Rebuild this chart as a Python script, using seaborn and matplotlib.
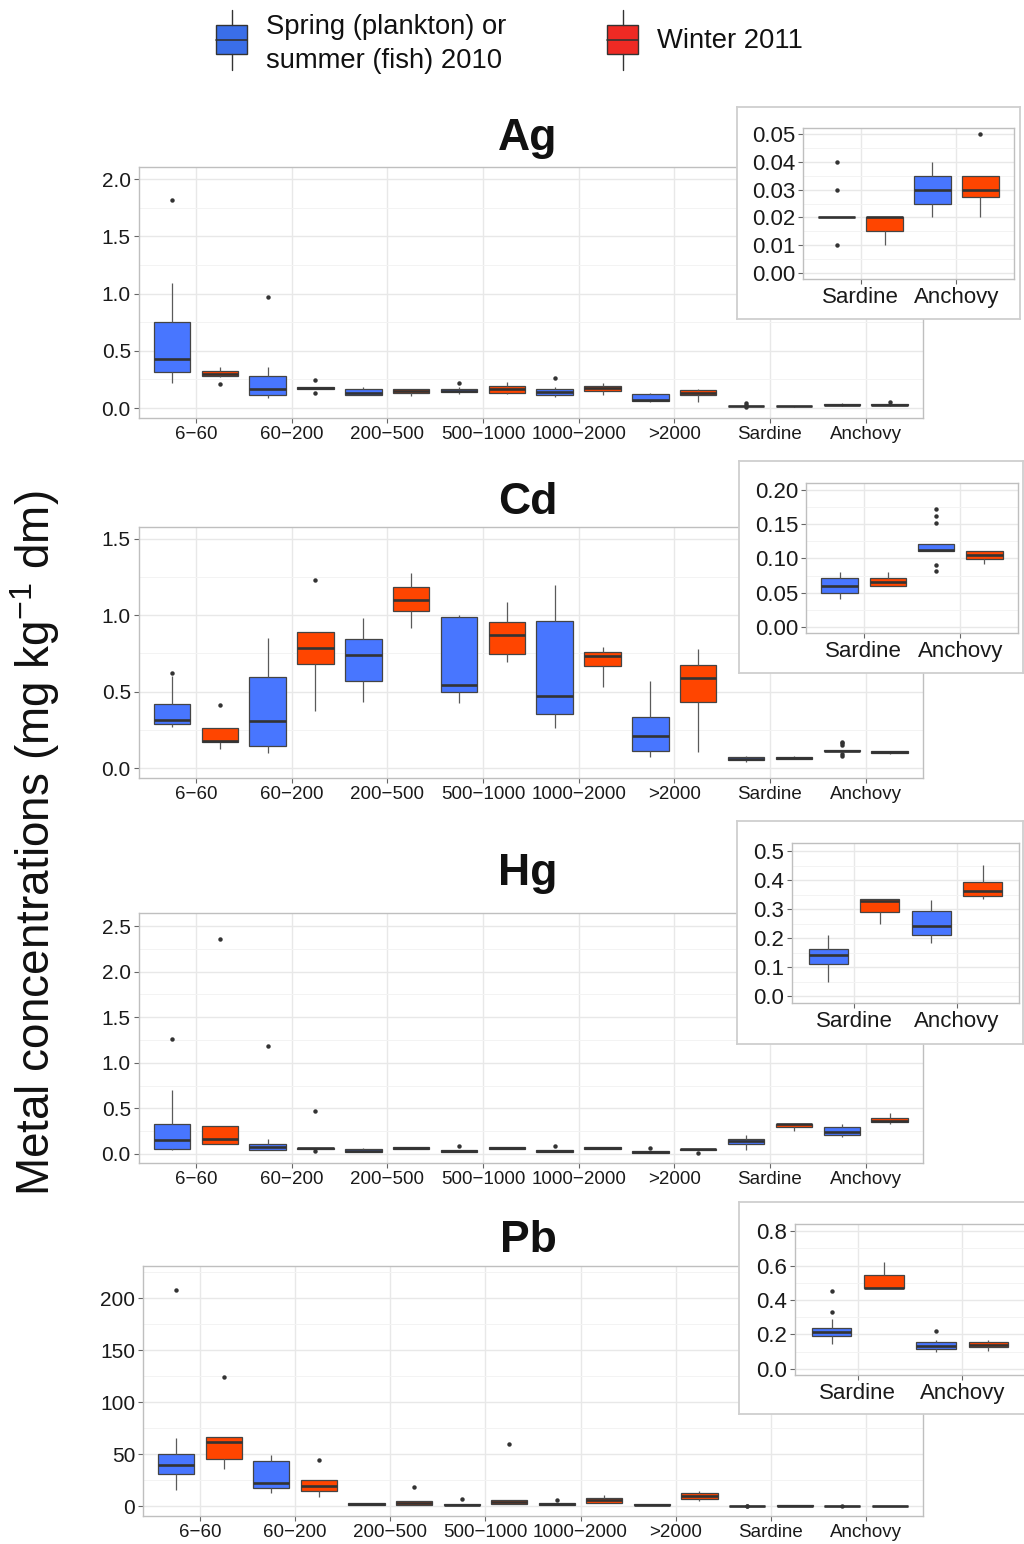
import numpy as np
import pandas as pd
import matplotlib
matplotlib.use("Agg")
import matplotlib.pyplot as plt
import seaborn as sns
from matplotlib.patches import Rectangle
from matplotlib.ticker import MultipleLocator

sns.set_theme(style="whitegrid")
plt.rcParams['font.family'] = ['Liberation Sans', 'DejaVu Sans']
plt.rcParams['mathtext.fontset'] = 'custom'
plt.rcParams['mathtext.rm'] = 'Liberation Sans'

# ---------------- data ----------------
classes = ["6\u221260", "60\u2212200", "200\u2212500", "500\u22121000",
           "1000\u22122000", ">2000", "Sardine", "Anchovy"]
fish = ["Sardine", "Anchovy"]
season_labels = ["Spring (plankton) or\nsummer (fish) 2010", "Winter 2011"]
metals = ["Ag", "Cd", "Hg", "Pb"]

# five-number summaries per class: (lower whisker, Q1, median, Q3, upper whisker)
ag_2010 = [(0.221, 0.317, 0.428, 0.754, 1.094), (0.085, 0.113, 0.169, 0.282, 0.355),
           (0.117, 0.117, 0.128, 0.169, 0.186), (0.12, 0.14, 0.152, 0.165, 0.18),
           (0.096, 0.114, 0.142, 0.169, 0.18), (0.05, 0.058, 0.07, 0.119, 0.134),
           (0.02, 0.02, 0.02, 0.02, 0.02), (0.02, 0.025, 0.03, 0.035, 0.04)]
ag_2010_out = [[1.816], [0.969], [], [0.215], [0.262], [], [0.01, 0.03, 0.04], []]
ag_2011 = [(0.27, 0.28, 0.30, 0.32, 0.355), (0.165, 0.165, 0.175, 0.18, 0.18),
           (0.102, 0.134, 0.149, 0.163, 0.169), (0.12, 0.134, 0.163, 0.192, 0.227),
           (0.11, 0.151, 0.175, 0.195, 0.218), (0.052, 0.111, 0.134, 0.155, 0.169),
           (0.01, 0.015, 0.02, 0.02, 0.02), (0.02, 0.0275, 0.03, 0.035, 0.035)]
ag_2011_out = [[0.212], [0.242, 0.135], [], [], [], [], [], [0.05]]

cd_2010 = [(0.266, 0.288, 0.314, 0.417, 0.60), (0.096, 0.146, 0.308, 0.598, 0.849),
           (0.434, 0.572, 0.742, 0.843, 0.98), (0.424, 0.50, 0.544, 0.991, 1.0),
           (0.264, 0.357, 0.472, 0.965, 1.196), (0.072, 0.109, 0.212, 0.336, 0.57),
           (0.041, 0.0502, 0.0604, 0.0712, 0.08), (0.111, 0.111, 0.1125, 0.1213, 0.1213)]
cd_2010_out = [[0.62], [], [], [], [], [], [], [0.172, 0.162, 0.152, 0.0906, 0.081]]
cd_2011 = [(0.124, 0.173, 0.177, 0.264, 0.264), (0.375, 0.681, 0.784, 0.891, 0.891),
           (0.915, 1.03, 1.10, 1.187, 1.279), (0.692, 0.747, 0.871, 0.956, 1.089),
           (0.53, 0.666, 0.731, 0.76, 0.79), (0.107, 0.432, 0.59, 0.677, 0.78),
           (0.06, 0.06, 0.065, 0.0712, 0.08), (0.0917, 0.099, 0.105, 0.1115, 0.1115)]
cd_2011_out = [[0.41], [1.229], [], [], [], [], [], []]

hg_2010 = [(0.04, 0.055, 0.153, 0.329, 0.70), (0.047, 0.047, 0.08, 0.113, 0.164),
           (0.02, 0.02, 0.035, 0.05, 0.07), (0.02, 0.02, 0.03, 0.04, 0.04),
           (0.025, 0.025, 0.035, 0.045, 0.045), (0.015, 0.015, 0.022, 0.03, 0.03),
           (0.049, 0.11, 0.141, 0.161, 0.21), (0.182, 0.21, 0.241, 0.292, 0.331)]
hg_2010_out = [[1.264], [1.184], [], [0.09], [0.09], [0.066], [], []]
hg_2011 = [(0.11, 0.11, 0.161, 0.307, 0.307), (0.06, 0.06, 0.065, 0.07, 0.07),
           (0.055, 0.055, 0.07, 0.08, 0.08), (0.05, 0.05, 0.065, 0.08, 0.08),
           (0.05, 0.05, 0.065, 0.077, 0.077), (0.045, 0.045, 0.055, 0.06, 0.06),
           (0.25, 0.291, 0.329, 0.333, 0.333), (0.333, 0.346, 0.363, 0.392, 0.452)]
hg_2011_out = [[2.36], [0.475, 0.035], [], [], [], [0.015], [], []]

pb_2010 = [(15.4, 30.5, 39.1, 49.7, 65.7), (12.2, 17.6, 22.4, 43.0, 49.4),
           (0.5, 0.5, 1.5, 2.7, 2.7), (0.5, 0.5, 1.2, 1.8, 1.8),
           (1.3, 1.3, 1.9, 2.6, 2.6), (0.8, 0.8, 1.4, 2.0, 2.0),
           (0.144, 0.19, 0.213, 0.24, 0.292), (0.098, 0.117, 0.136, 0.156, 0.171)]
pb_2010_out = [[208], [], [], [6.7], [5.5], [], [0.33, 0.451], [0.223]]
pb_2011 = [(35.3, 45.2, 61.8, 66.0, 66.0), (9.0, 14.1, 19.2, 24.7, 24.7),
           (0.5, 0.5, 3.0, 5.3, 5.3), (1.5, 1.5, 3.5, 5.5, 5.5),
           (3.2, 3.2, 5.8, 8.0, 10.6), (4.8, 7.0, 9.9, 12.2, 14.7),
           (0.467, 0.467, 0.471, 0.546, 0.618), (0.105, 0.125, 0.142, 0.157, 0.171)]
pb_2011_out = [[123.7], [44.2], [18.6], [59.3], [], [], [], []]

summaries = {
    "Ag": [(ag_2010, ag_2010_out), (ag_2011, ag_2011_out)],
    "Cd": [(cd_2010, cd_2010_out), (cd_2011, cd_2011_out)],
    "Hg": [(hg_2010, hg_2010_out), (hg_2011, hg_2011_out)],
    "Pb": [(pb_2010, pb_2010_out), (pb_2011, pb_2011_out)],
}

# expand each summary into observations whose quartiles match the summary
rows = []
for metal, seasons in summaries.items():
    for s_idx, (stats, outs) in enumerate(seasons):
        for cls, (lo, q1, med, q3, hi), out in zip(classes, stats, outs):
            vals = [lo] + [q1] * 10 + [med] * 5 + [q3] * 10 + [hi] + list(out)
            for v in vals:
                rows.append((metal, season_labels[s_idx], cls, v))
df = pd.DataFrame(rows, columns=["metal", "season", "cls", "value"])

# ---------------- layout ----------------
W, H = 1024, 1544
BLUE, RED = "#4876FF", "#FF4500"


def rect(l, t, r, b):
    return [l / W, 1 - b / H, (r - l) / W, (b - t) / H]


main_rects = {"Ag": (138.5, 167, 923, 418), "Cd": (138.5, 527, 923, 778),
              "Hg": (138.5, 913, 923, 1163), "Pb": (143, 1266, 923, 1516)}
main_ylim = {"Ag": (-0.087, 2.105), "Cd": (-0.065, 1.578),
             "Hg": (-0.099, 2.643), "Pb": (-9.6, 230.8)}
main_step = {"Ag": 0.5, "Cd": 0.5, "Hg": 0.5, "Pb": 50}
title_base = {"Ag": 150, "Cd": 514, "Hg": 885, "Pb": 1252}

inset_rects = {"Ag": (803, 128, 1014, 279), "Cd": (806, 483, 1018, 633),
               "Hg": (792, 843, 1019, 1003), "Pb": (795, 1224, 1025, 1375)}
inset_outer = {"Ag": (737, 107, 1020, 319), "Cd": (739, 461, 1023, 673),
               "Hg": (737, 821, 1023, 1044), "Pb": (739, 1202, 1030, 1414)}
inset_ylim = {"Ag": (-0.0022, 0.0523), "Cd": (-0.0088, 0.210),
              "Hg": (-0.0241, 0.5276), "Pb": (-0.0348, 0.8406)}
inset_step = {"Ag": 0.01, "Cd": 0.05, "Hg": 0.1, "Pb": 0.2}

fig = plt.figure(figsize=(W / 100, H / 100), dpi=100)
fig.patch.set_facecolor("white")

box_kw = dict(hue="season", hue_order=season_labels, palette=[BLUE, RED],
              saturation=1, width=1.0, gap=0.24, linecolor="#444444", linewidth=0.9,
              showcaps=False, legend=False,
              medianprops=dict(color="#333333", linewidth=1.9),
              whiskerprops=dict(color="#5a5a5a", linewidth=0.9),
              flierprops=dict(marker="o", markersize=3.2, markerfacecolor="#333333",
                              markeredgecolor="#333333", markeredgewidth=0))


def style_axes(ax, step, xlabsize, ylabsize):
    ax.set_facecolor("white")
    ax.set_xlabel("")
    ax.set_ylabel("")
    ax.yaxis.set_major_locator(MultipleLocator(step))
    ax.yaxis.set_minor_locator(MultipleLocator(step / 2))
    ax.grid(True, which="major", color="#e8e8e8", linewidth=1.0)
    ax.grid(True, which="minor", axis="y", color="#f3f3f3", linewidth=0.7)
    ax.set_axisbelow(True)
    for sp in ax.spines.values():
        sp.set_color("#bfbfbf")
        sp.set_linewidth(1.0)
    ax.tick_params(axis="both", which="major", length=3.5, width=0.8, color="#666666",
                   labelcolor="#1a1a1a", pad=2, bottom=True, left=True)
    ax.tick_params(axis="x", labelsize=xlabsize)
    ax.tick_params(axis="y", labelsize=ylabsize)
    ax.tick_params(which="minor", length=0)


# legend
axl = fig.add_axes([0, 0, 1, 1])
axl.set_xlim(0, W)
axl.set_ylim(H, 0)
axl.axis("off")
for x0, col in [(216, "#3a6ee8"), (607, "#ee2a24")]:
    axl.plot([x0 + 15.5, x0 + 15.5], [10, 25], color="#333333", lw=1.0)
    axl.plot([x0 + 15.5, x0 + 15.5], [54, 70], color="#333333", lw=1.0)
    axl.add_patch(Rectangle((x0, 25), 31, 29, facecolor=col, edgecolor="#333333", lw=1.0))
    axl.plot([x0, x0 + 31], [40, 40], color="#333333", lw=1.2)
axl.text(266, 44, season_labels[0], fontsize=19.7, va="center", ha="left",
         linespacing=1.4, color="#111111")
axl.text(657, 41, season_labels[1], fontsize=19.7, va="center", ha="left", color="#111111")

fig.text(35 / W, 1 - 843 / H, r"Metal concentrations (mg kg$^{-1}$ dm)", rotation=90,
         ha="center", va="center", fontsize=33, color="#111111")

for metal in metals:
    sub = df[df.metal == metal]
    ax = fig.add_axes(rect(*main_rects[metal]))
    sns.boxplot(data=sub, x="cls", y="value", order=classes, ax=ax, **box_kw)
    ax.set_xlim(-0.6, len(classes) - 0.4)
    ax.set_ylim(*main_ylim[metal])
    style_axes(ax, main_step[metal], 13.5, 15)
    fig.text(528 / W, 1 - title_base[metal] / H, metal, fontsize=32, fontweight="bold",
             ha="center", va="baseline", color="#111111")

    # inset frame
    fr = fig.add_axes(rect(*inset_outer[metal]))
    fr.set_facecolor("white")
    fr.set_xticks([])
    fr.set_yticks([])
    fr.grid(False)
    for sp in fr.spines.values():
        sp.set_color("#cfcfcf")
        sp.set_linewidth(1.3)

    axi = fig.add_axes(rect(*inset_rects[metal]))
    sns.boxplot(data=sub[sub.cls.isin(fish)], x="cls", y="value", order=fish, ax=axi, **box_kw)
    axi.set_xlim(-0.6, 1.6)
    axi.set_ylim(*inset_ylim[metal])
    style_axes(axi, inset_step[metal], 16, 16)

fig.savefig("out.png", dpi=100)
